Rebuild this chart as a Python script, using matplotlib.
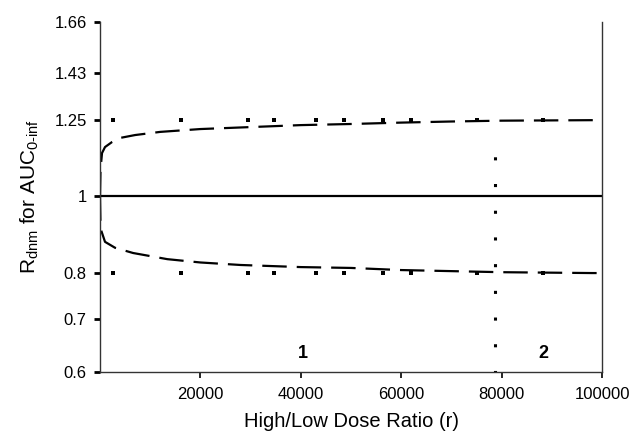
import numpy as np
import matplotlib
matplotlib.use("Agg")
import matplotlib.pyplot as plt
from matplotlib.ticker import FixedLocator, NullLocator, FixedFormatter

plt.rcParams['font.family'] = ['Liberation Sans', 'DejaVu Sans']
plt.rcParams['mathtext.default'] = 'regular'

# upper and lower limit curves
r_upper = [1, 100, 400, 1000, 2400, 4000, 7000, 12000, 20000, 30000, 40000,
           50000, 60000, 70000, 80000, 90000, 100000]
rdnm_upper = [1.0, 1.08, 1.134, 1.154, 1.171, 1.185, 1.195, 1.206, 1.216, 1.223,
              1.230, 1.234, 1.239, 1.243, 1.246, 1.247, 1.248]

r_lower = [1, 100, 200, 1000, 3000, 6600, 13400, 20000, 28000, 40000, 50000,
           60000, 80000, 98000, 100000]
rdnm_lower = [1.0, 0.920, 0.907, 0.876, 0.861, 0.848, 0.833, 0.825, 0.819, 0.814,
              0.812, 0.807, 0.802, 0.800, 0.800]

# dotted reference marks at the limits
r_dots = [2600, 16100, 29500, 34700, 43000, 48600, 56400, 62000, 75100, 88200]
upper_limit = 1.25
lower_limit = 0.8

# vertical separator between regions 1 and 2
r_split = 78700
split_top = 1.118

yticks = [0.6, 0.7, 0.8, 1, 1.25, 1.43, 1.66]
ytick_labels = ['0.6', '0.7', '0.8', '1', '1.25', '1.43', '1.66']
xticks = [20000, 40000, 60000, 80000, 100000]
xtick_labels = ['20000', '40000', '60000', '80000', '100000']

fig = plt.figure(figsize=(6.36, 4.36), dpi=100)
ax = fig.add_axes([100/636, 64/436, 502/636, 350/436])

ax.axhline(1.0, color='black', lw=1.6)
ax.plot(r_upper, rdnm_upper, color='black', lw=1.6, linestyle=(0, (11, 4.5)))
ax.plot(r_lower, rdnm_lower, color='black', lw=1.6, linestyle=(0, (11, 4.5)))

ax.plot(r_dots, [upper_limit]*len(r_dots), 's', color='black', ms=2.6, mew=0)
ax.plot(r_dots, [lower_limit]*len(r_dots), 's', color='black', ms=2.6, mew=0)

ax.plot([r_split, r_split], [0.6, split_top], color='black', lw=2.2,
        linestyle=(0, (0.01, 8.73)), dash_capstyle='projecting')

ax.text(40400, 0.634, '1', fontsize=13, fontweight='bold', ha='center', va='center')
ax.text(88400, 0.634, '2', fontsize=13, fontweight='bold', ha='center', va='center')

ax.set_yscale('log')
ax.set_ylim(0.6, 1.66)
ax.set_xlim(0, 100000)
ax.yaxis.set_major_locator(FixedLocator(yticks))
ax.yaxis.set_major_formatter(FixedFormatter(ytick_labels))
ax.yaxis.set_minor_locator(NullLocator())
ax.set_xticks(xticks)
ax.set_xticklabels(xtick_labels)

ax.spines['top'].set_visible(False)
for s in ['left', 'bottom', 'right']:
    ax.spines[s].set_color('#333333')
    ax.spines[s].set_linewidth(1.0)

ax.tick_params(axis='y', direction='out', length=4.5, width=2, labelsize=12, pad=5)
ax.tick_params(axis='x', direction='out', length=4, width=1.2, labelsize=12, pad=7)

ax.set_xlabel('High/Low Dose Ratio (r)', fontsize=14.5, labelpad=7)
ax.set_ylabel('R$_{dnm}$ for AUC$_{0\u2010inf}$', fontsize=15, labelpad=10)

fig.savefig('out.png', dpi=100)
